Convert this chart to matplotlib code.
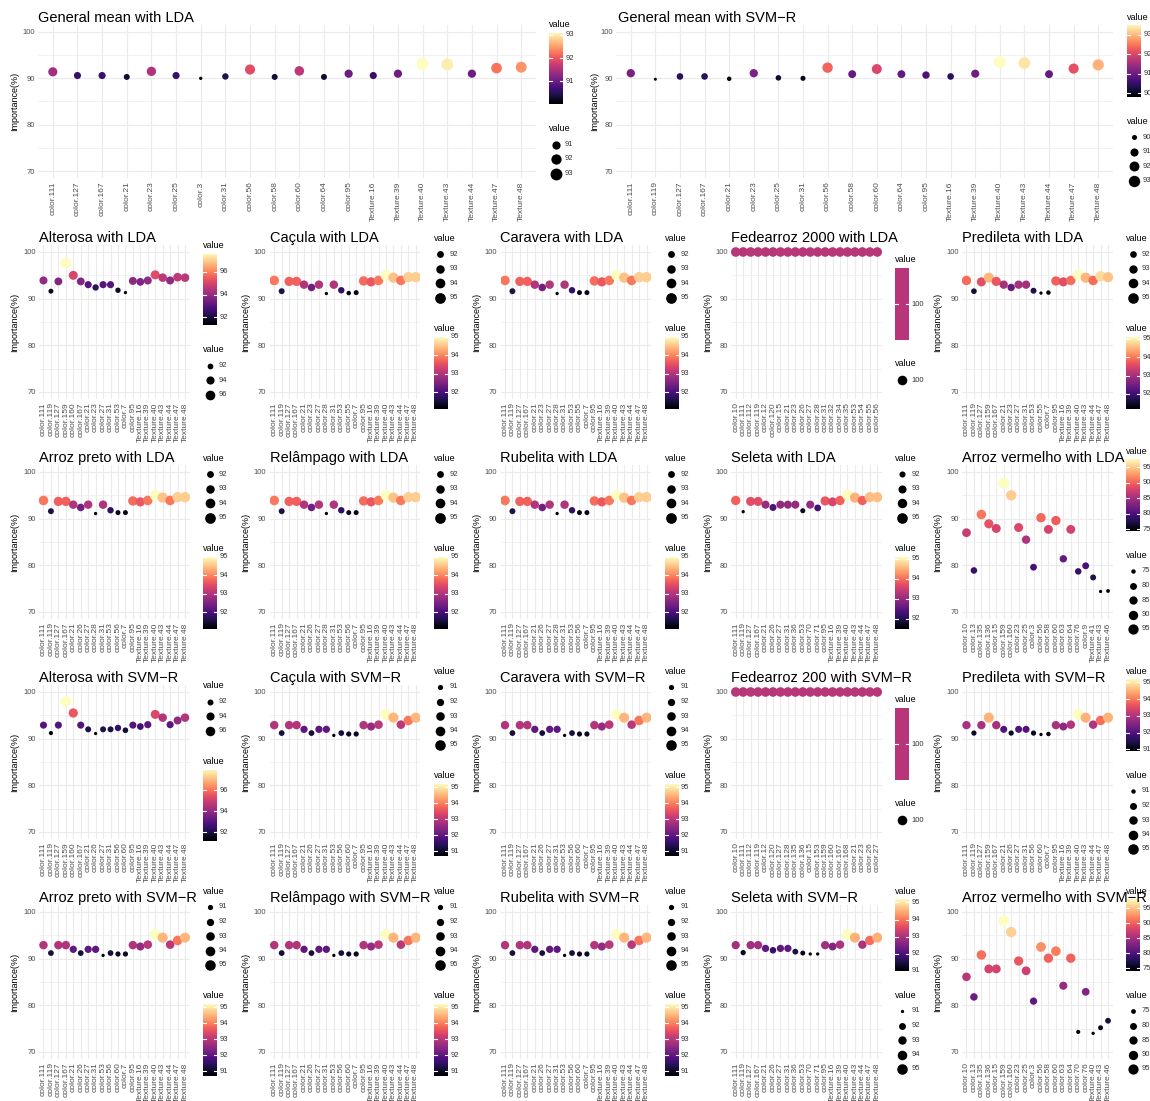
import numpy as np
import matplotlib
matplotlib.use("Agg")
import matplotlib.pyplot as plt
from matplotlib import colormaps

plt.rcParams['font.family'] = ['Liberation Sans', 'DejaVu Sans']

# ---------------- data ----------------
gm_lda_cats = ["color.111", "color.127", "color.167", "color.21", "color.23", "color.25", "color.3", "color.31",
               "color.56", "color.58", "color.60", "color.64", "color.95", "Texture.16", "Texture.39", "Texture.40",
               "Texture.43", "Texture.44", "Texture.47", "Texture.48"]
gm_lda_vals = [91.4, 90.6, 90.6, 90.3, 91.5, 90.6, 90.0, 90.4, 91.9, 90.3, 91.6, 90.3, 91.0, 90.6, 91.0, 93.1,
               93.0, 91.0, 92.2, 92.4]
gm_lda_breaks = [91, 92, 93]

gm_svm_cats = ["color.111", "color.119", "color.127", "color.167", "color.21", "color.23", "color.25", "color.31",
               "color.56", "color.58", "color.60", "color.64", "color.95", "Texture.16", "Texture.39", "Texture.40",
               "Texture.43", "Texture.44", "Texture.47", "Texture.48"]
gm_svm_vals = [91.1, 89.8, 90.4, 90.4, 89.9, 91.1, 90.1, 90.0, 92.3, 90.9, 92.0, 90.9, 90.7, 90.4, 91.0, 93.5,
               93.3, 90.9, 92.1, 92.9]
gm_svm_breaks = [90, 91, 92, 93]

alterosa_lda_cats = ["color.111", "color.119", "color.127", "color.159", "color.160", "color.167", "color.21",
                     "color.23", "color.27", "color.31", "color.53", "color.7", "color.95", "Texture.16",
                     "Texture.39", "Texture.40", "Texture.43", "Texture.44", "Texture.47", "Texture.48"]
alterosa_lda_vals = [93.9, 91.6, 93.7, 97.6, 95.0, 93.7, 93.0, 92.4, 93.0, 93.0, 91.8, 91.3, 93.8, 93.6, 93.9,
                     95.1, 94.5, 93.9, 94.6, 94.5]
alterosa_lda_breaks = [92, 94, 96]

cacula_lda_cats = ["color.111", "color.119", "color.127", "color.167", "color.21", "color.23", "color.27",
                   "color.28", "color.31", "color.53", "color.55", "color.7", "color.95", "Texture.16", "Texture.39",
                   "Texture.40", "Texture.43", "Texture.44", "Texture.47", "Texture.48"]
cacula_lda_vals = [93.9, 91.6, 93.7, 93.7, 93.0, 92.4, 93.0, 91.1, 93.0, 91.8, 91.2, 91.3, 93.8, 93.6, 93.9,
                   95.0, 94.5, 93.9, 94.6, 94.6]
cacula_lda_breaks = [92, 93, 94, 95]

caravera_lda_cats = ["color.111", "color.119", "color.127", "color.167", "color.21", "color.23", "color.27",
                     "color.28", "color.31", "color.53", "color.55", "color.7", "color.95", "Texture.16",
                     "Texture.39", "Texture.40", "Texture.43", "Texture.44", "Texture.47", "Texture.48"]
caravera_lda_vals = [93.9, 91.6, 93.7, 93.7, 93.0, 92.4, 93.0, 91.1, 93.0, 91.8, 91.3, 91.3, 93.8, 93.6, 93.9,
                     95.0, 94.5, 93.9, 94.6, 94.6]
caravera_lda_breaks = [92, 93, 94, 95]

fedearroz_lda_cats = ["color.10", "color.111", "color.112", "color.119", "color.12", "color.120", "color.15",
                      "color.21", "color.23", "color.26", "color.27", "color.28", "color.31", "color.32", "color.34",
                      "color.35", "color.53", "color.54", "color.55", "color.56"]
fedearroz_lda_vals = [100] * 20
fedearroz_lda_breaks = [100]

predileta_lda_cats = ["color.111", "color.119", "color.127", "color.159", "color.167", "color.21", "color.23",
                      "color.27", "color.31", "color.53", "color.55", "color.7", "color.95", "Texture.16",
                      "Texture.39", "Texture.40", "Texture.43", "Texture.44", "Texture.47", "Texture.48"]
predileta_lda_vals = [93.9, 91.6, 93.6, 94.5, 93.7, 93.0, 92.4, 93.0, 93.0, 91.7, 91.2, 91.3, 93.8, 93.6, 93.9,
                      95.1, 94.5, 93.9, 94.8, 94.6]
predileta_lda_breaks = [92, 93, 94, 95]

arroz_preto_lda_cats = ["color.111", "color.119", "color.127", "color.167", "color.21", "color.26", "color.27",
                        "color.28", "color.31", "color.53", "color.56", "color.7", "color.95", "Texture.16",
                        "Texture.39", "Texture.40", "Texture.43", "Texture.44", "Texture.47", "Texture.48"]
arroz_preto_lda_vals = [93.9, 91.6, 93.7, 93.7, 93.0, 92.4, 93.0, 91.1, 93.0, 91.8, 91.3, 91.3, 93.8, 93.6, 93.9,
                        95.0, 94.5, 93.9, 94.6, 94.6]
arroz_preto_lda_breaks = [92, 93, 94, 95]

relampago_lda_cats = ["color.111", "color.119", "color.127", "color.167", "color.21", "color.26", "color.27",
                      "color.28", "color.31", "color.53", "color.56", "color.7", "color.95", "Texture.16",
                      "Texture.39", "Texture.40", "Texture.43", "Texture.44", "Texture.47", "Texture.48"]
relampago_lda_vals = [93.9, 91.6, 93.7, 93.7, 93.0, 92.4, 93.0, 91.1, 93.0, 91.8, 91.3, 91.3, 93.8, 93.6, 93.9,
                      95.0, 94.5, 93.9, 94.6, 94.6]
relampago_lda_breaks = [92, 93, 94, 95]

rubelita_lda_cats = ["color.111", "color.119", "color.127", "color.167", "color.21", "color.26", "color.27",
                     "color.28", "color.31", "color.53", "color.56", "color.7", "color.95", "Texture.16",
                     "Texture.39", "Texture.40", "Texture.43", "Texture.44", "Texture.47", "Texture.48"]
rubelita_lda_vals = [93.9, 91.6, 93.7, 93.7, 93.0, 92.4, 93.0, 91.1, 93.0, 91.8, 91.3, 91.3, 93.8, 93.6, 93.9,
                     95.0, 94.5, 93.9, 94.6, 94.6]
rubelita_lda_breaks = [92, 93, 94, 95]

seleta_lda_cats = ["color.111", "color.119", "color.127", "color.167", "color.21", "color.26", "color.27",
                   "color.31", "color.36", "color.53", "color.70", "color.71", "color.95", "Texture.16",
                   "Texture.39", "Texture.40", "Texture.43", "Texture.44", "Texture.47", "Texture.48"]
seleta_lda_vals = [93.9, 91.5, 93.7, 93.7, 93.0, 92.4, 93.0, 93.0, 93.0, 91.7, 93.0, 92.3, 93.8, 93.6, 93.9,
                   95.1, 94.5, 93.9, 94.6, 94.6]
seleta_lda_breaks = [92, 93, 94, 95]

arroz_vermelho_lda_cats = ["color.10", "color.13", "color.135", "color.136", "color.15", "color.159", "color.160",
                           "color.23", "color.25", "color.3", "color.56", "color.58", "color.60", "color.63",
                           "color.64", "color.76", "color.9", "Texture.41", "Texture.43", "Texture.46"]
arroz_vermelho_lda_vals = [87.0, 78.9, 90.9, 88.9, 87.9, 97.6, 95.0, 88.1, 85.5, 79.6, 90.2, 87.7, 89.6, 81.4,
                           87.7, 78.7, 79.9, 77.4, 74.4, 74.5]
arroz_vermelho_lda_breaks = [75, 80, 85, 90, 95]

alterosa_svm_cats = ["color.111", "color.119", "color.127", "color.159", "color.160", "color.167", "color.21",
                     "color.26", "color.27", "color.31", "color.56", "color.60", "color.95", "Texture.16",
                     "Texture.39", "Texture.40", "Texture.43", "Texture.44", "Texture.47", "Texture.48"]
alterosa_svm_vals = [92.9, 91.2, 92.9, 98.0, 95.5, 92.9, 92.0, 91.1, 92.0, 92.0, 92.3, 91.8, 92.9, 92.6, 93.0,
                     95.2, 94.5, 93.0, 93.9, 94.5]
alterosa_svm_breaks = [92, 94, 96]

cacula_svm_cats = ["color.111", "color.119", "color.127", "color.167", "color.21", "color.26", "color.27",
                   "color.31", "color.53", "color.56", "color.60", "color.7", "color.95", "Texture.16", "Texture.39",
                   "Texture.40", "Texture.43", "Texture.44", "Texture.47", "Texture.48"]
cacula_svm_vals = [92.9, 91.2, 92.9, 92.9, 92.0, 91.2, 92.0, 92.0, 90.7, 91.2, 91.0, 91.0, 92.9, 92.6, 93.0,
                   95.2, 94.5, 93.0, 93.9, 94.5]
cacula_svm_breaks = [91, 92, 93, 94, 95]

caravera_svm_cats = ["color.111", "color.119", "color.127", "color.167", "color.21", "color.26", "color.27",
                     "color.31", "color.53", "color.56", "color.60", "color.7", "color.95", "Texture.16",
                     "Texture.39", "Texture.40", "Texture.43", "Texture.44", "Texture.47", "Texture.48"]
caravera_svm_vals = [92.9, 91.2, 92.9, 92.9, 92.0, 91.2, 92.0, 92.0, 90.7, 91.2, 91.0, 91.0, 92.9, 92.6, 93.0,
                     95.2, 94.5, 93.0, 93.9, 94.5]
caravera_svm_breaks = [91, 92, 93, 94, 95]

fedearroz_svm_cats = ["color.10", "color.111", "color.112", "color.119", "color.12", "color.120", "color.127",
                      "color.128", "color.135", "color.136", "color.15", "color.153", "color.159", "color.160",
                      "color.167", "color.168", "color.21", "color.23", "color.26", "color.27"]
fedearroz_svm_vals = [100] * 20
fedearroz_svm_breaks = [100]

predileta_svm_cats = ["color.111", "color.119", "color.127", "color.159", "color.167", "color.21", "color.26",
                      "color.27", "color.31", "color.56", "color.60", "color.7", "color.95", "Texture.16",
                      "Texture.39", "Texture.40", "Texture.43", "Texture.44", "Texture.47", "Texture.48"]
predileta_svm_vals = [92.9, 91.2, 92.9, 94.5, 92.9, 92.0, 91.2, 92.0, 92.0, 91.2, 90.9, 91.0, 92.9, 92.6, 93.0,
                      95.2, 94.5, 93.0, 93.9, 94.5]
predileta_svm_breaks = [91, 92, 93, 94, 95]

arroz_preto_svm_cats = ["color.111", "color.119", "color.127", "color.167", "color.21", "color.26", "color.27",
                        "color.31", "color.53", "color.56", "color.60", "color.7", "color.95", "Texture.16",
                        "Texture.39", "Texture.40", "Texture.43", "Texture.44", "Texture.47", "Texture.48"]
arroz_preto_svm_vals = [92.9, 91.2, 92.9, 92.9, 92.0, 91.2, 92.0, 92.0, 90.7, 91.2, 91.0, 91.0, 92.9, 92.6, 93.0,
                        95.2, 94.5, 93.0, 93.9, 94.5]
arroz_preto_svm_breaks = [91, 92, 93, 94, 95]

relampago_svm_cats = ["color.111", "color.119", "color.127", "color.167", "color.21", "color.26", "color.27",
                      "color.31", "color.53", "color.56", "color.60", "color.7", "color.95", "Texture.16",
                      "Texture.39", "Texture.40", "Texture.43", "Texture.44", "Texture.47", "Texture.48"]
relampago_svm_vals = [92.9, 91.2, 92.9, 92.9, 92.0, 91.2, 92.0, 92.0, 90.7, 91.2, 91.0, 91.0, 92.9, 92.6, 93.0,
                      95.2, 94.5, 93.0, 93.9, 94.5]
relampago_svm_breaks = [91, 92, 93, 94, 95]

rubelita_svm_cats = ["color.111", "color.119", "color.127", "color.167", "color.21", "color.26", "color.27",
                     "color.31", "color.53", "color.56", "color.60", "color.7", "color.95", "Texture.16",
                     "Texture.39", "Texture.40", "Texture.43", "Texture.44", "Texture.47", "Texture.48"]
rubelita_svm_vals = [92.9, 91.2, 92.9, 92.9, 92.0, 91.2, 92.0, 92.0, 90.7, 91.2, 91.0, 91.0, 92.9, 92.6, 93.0,
                     95.2, 94.5, 93.0, 93.9, 94.5]
rubelita_svm_breaks = [91, 92, 93, 94, 95]

seleta_svm_cats = ["color.111", "color.119", "color.127", "color.167", "color.21", "color.26", "color.27",
                   "color.31", "color.36", "color.53", "color.70", "color.71", "color.95", "Texture.16",
                   "Texture.39", "Texture.40", "Texture.43", "Texture.44", "Texture.47", "Texture.48"]
seleta_svm_vals = [92.9, 91.3, 92.9, 92.9, 92.2, 91.8, 92.2, 92.2, 91.5, 91.2, 91.0, 91.0, 92.9, 92.6, 93.0,
                   95.2, 94.5, 93.0, 93.9, 94.5]
seleta_svm_breaks = [91, 92, 93, 94, 95]

arroz_vermelho_svm_cats = ["color.10", "color.13", "color.135", "color.136", "color.15", "color.159", "color.160",
                           "color.23", "color.25", "color.3", "color.56", "color.58", "color.60", "color.63",
                           "color.64", "color.70", "color.76", "Texture.40", "Texture.43", "Texture.46"]
arroz_vermelho_svm_vals = [86.1, 81.8, 90.8, 87.8, 87.8, 98.1, 95.7, 89.5, 87.4, 80.9, 92.5, 90.1, 91.6, 84.2,
                           90.1, 74.3, 82.9, 74.0, 75.2, 76.7]
arroz_vermelho_svm_breaks = [75, 80, 85, 90, 95]

y_ticks = [70, 80, 90, 100]

# ---------------- drawing ----------------
W, H = 1150, 1101
fig = plt.figure(figsize=(W / 100, H / 100), dpi=100)
fig.patch.set_facecolor('white')
ov = fig.add_axes([0, 0, 1, 1], zorder=10)
ov.set_xlim(0, W)
ov.set_ylim(H, 0)
ov.axis('off')

cmap = colormaps['magma']
TXT = '#4D4D4D'
GRID = '#EBEBEB'


def norm_t(v, vmin, vmax):
    v = np.asarray(v, float)
    if vmax - vmin < 1e-9:
        return np.full_like(v, 0.5)
    return np.clip((v - vmin) / (vmax - vmin), 0, 1)


def diam(v, vmin, vmax, dmin, dmax):
    v = np.asarray(v, float)
    if vmax - vmin < 1e-9:
        return np.full_like(v, 9.6)
    t = norm_t(v, vmin, vmax)
    return dmin + np.sqrt(t) * (dmax - dmin)


def s_of(d):
    return (np.asarray(d) * 0.72) ** 2


def draw_cbar(x, y, vmin, vmax, breaks, bar_h=72, bar_w=14):
    ov.text(x, y + 5, "value", fontsize=6.5, color='black', ha='left', va='center')
    top = y + 13
    bot = top + bar_h
    cax = fig.add_axes([x / W, 1 - bot / H, bar_w / W, bar_h / H], zorder=5)
    if vmax - vmin < 1e-9:
        grad = np.full((2, 1), 0.5)
    else:
        grad = np.linspace(1, 0, 256)[:, None]
    cax.imshow(grad, cmap=cmap, vmin=0, vmax=1, aspect='auto', extent=(0, 1, 0, 1), interpolation='bilinear')
    cax.axis('off')
    for b in breaks:
        t = float(norm_t(b, vmin, vmax))
        yy = bot - t * bar_h
        ov.plot([x, x + 3], [yy, yy], color='white', lw=0.8)
        ov.plot([x + bar_w - 3, x + bar_w], [yy, yy], color='white', lw=0.8)
        ov.text(x + bar_w + 2.5, yy, f"{b:g}", fontsize=5.5, color='#333333', ha='left', va='center',
                clip_on=False)
    return 13 + bar_h


def draw_size(x, y, vmin, vmax, breaks, dmin, dmax):
    ov.text(x, y + 5, "value", fontsize=6.5, color='black', ha='left', va='center')
    for i, b in enumerate(breaks):
        yy = y + 21 + i * 14.5
        ov.scatter([x + 6.5], [yy], s=s_of(diam(b, vmin, vmax, dmin, dmax)), color='black', linewidths=0)
        ov.text(x + 16, yy, f"{b:g}", fontsize=5.5, color='#333333', ha='left', va='center')
    return 21 + (len(breaks) - 1) * 14.5 + 7


def panel(x0, y0, cats, vals, title, breaks, order, geom):
    pl, pr, pt, pb, lx, lc, dmin, dmax, tx, ty = geom
    ax = fig.add_axes([(x0 + pl) / W, 1 - (y0 + pb) / H, (pr - pl) / W, (pb - pt) / H])
    n = len(cats)
    xs = np.arange(n)
    v = np.asarray(vals, float)
    vmin, vmax = v.min(), v.max()
    cols = cmap(norm_t(v, vmin, vmax))
    ax.scatter(xs, v, s=s_of(diam(v, vmin, vmax, dmin, dmax)), c=cols, linewidths=0, zorder=3)
    ax.set_xlim(-0.6, n - 0.4)
    ax.set_ylim(68.5, 101.5)
    ax.set_xticks(xs)
    ax.set_xticklabels(cats, rotation=90, fontsize=6, color=TXT)
    ax.set_yticks(y_ticks)
    ax.set_yticklabels([str(t) for t in y_ticks], fontsize=5.5, color=TXT)
    ax.set_yticks([75, 85, 95], minor=True)
    ax.tick_params(which='both', length=0, pad=2.5)
    ax.grid(which='major', color=GRID, lw=0.8)
    ax.grid(which='minor', axis='y', color=GRID, lw=0.45)
    ax.set_axisbelow(True)
    for sp in ax.spines.values():
        sp.set_visible(False)
    ov.text(x0 + 15, y0 + (pt + pb) / 2, "Importance(%)", rotation=90, fontsize=6.5, color='black',
            ha='center', va='center')
    ov.text(x0 + tx, y0 + ty, title, fontsize=10.5, color='black', ha='left', va='center')
    # legends, stacked and centred vertically
    h_c = 85
    h_s = 21 + (len(breaks) - 1) * 14.5 + 7
    gap = 19
    total = h_c + h_s + gap
    y = y0 + lc - total / 2
    for b in order:
        if b == 'c':
            draw_cbar(x0 + lx, y, vmin, vmax, breaks)
            y += h_c + gap
        else:
            draw_size(x0 + lx, y, vmin, vmax, breaks, dmin, dmax)
            y += h_s + gap


# top row
panel(0, 0, gm_lda_cats, gm_lda_vals, "General mean with LDA", gm_lda_breaks, 'cs',
      (38, 536, 25, 178, 549, 100, 3.3, 12.0, 38, 18))
panel(580, 0, gm_svm_cats, gm_svm_vals, "General mean with SVM\u2212R", gm_svm_breaks, 'cs',
      (36, 533, 25, 178, 547, 100, 3.0, 12.0, 38, 18))

lower = [
    [(alterosa_lda_cats, alterosa_lda_vals, "Alterosa with LDA", alterosa_lda_breaks, 'cs'),
     (cacula_lda_cats, cacula_lda_vals, "Caçula with LDA", cacula_lda_breaks, 'sc'),
     (caravera_lda_cats, caravera_lda_vals, "Caravera with LDA", caravera_lda_breaks, 'sc'),
     (fedearroz_lda_cats, fedearroz_lda_vals, "Fedearroz 2000 with LDA", fedearroz_lda_breaks, 'cs'),
     (predileta_lda_cats, predileta_lda_vals, "Predileta with LDA", predileta_lda_breaks, 'sc')],
    [(arroz_preto_lda_cats, arroz_preto_lda_vals, "Arroz preto with LDA", arroz_preto_lda_breaks, 'sc'),
     (relampago_lda_cats, relampago_lda_vals, "Relâmpago with LDA", relampago_lda_breaks, 'sc'),
     (rubelita_lda_cats, rubelita_lda_vals, "Rubelita with LDA", rubelita_lda_breaks, 'sc'),
     (seleta_lda_cats, seleta_lda_vals, "Seleta with LDA", seleta_lda_breaks, 'sc'),
     (arroz_vermelho_lda_cats, arroz_vermelho_lda_vals, "Arroz vermelho with LDA", arroz_vermelho_lda_breaks, 'cs')],
    [(alterosa_svm_cats, alterosa_svm_vals, "Alterosa with SVM\u2212R", alterosa_svm_breaks, 'sc'),
     (cacula_svm_cats, cacula_svm_vals, "Caçula with SVM\u2212R", cacula_svm_breaks, 'sc'),
     (caravera_svm_cats, caravera_svm_vals, "Caravera with SVM\u2212R", caravera_svm_breaks, 'sc'),
     (fedearroz_svm_cats, fedearroz_svm_vals, "Fedearroz 200 with SVM\u2212R", fedearroz_svm_breaks, 'cs'),
     (predileta_svm_cats, predileta_svm_vals, "Predileta with SVM\u2212R", predileta_svm_breaks, 'cs')],
    [(arroz_preto_svm_cats, arroz_preto_svm_vals, "Arroz preto with SVM\u2212R", arroz_preto_svm_breaks, 'sc'),
     (relampago_svm_cats, relampago_svm_vals, "Relâmpago with SVM\u2212R", relampago_svm_breaks, 'sc'),
     (rubelita_svm_cats, rubelita_svm_vals, "Rubelita with SVM\u2212R", rubelita_svm_breaks, 'sc'),
     (seleta_svm_cats, seleta_svm_vals, "Seleta with SVM\u2212R", seleta_svm_breaks, 'cs'),
     (arroz_vermelho_svm_cats, arroz_vermelho_svm_vals, "Arroz vermelho with SVM\u2212R", arroz_vermelho_svm_breaks, 'cs')],
]
row_tops = [225, 445, 665, 885]
col_lefts = [0, 230.75, 461.5, 692.25, 923]
lower_geom = (39, 189.5, 20, 174, 203, 96, 3.3, 10.7, 39, 13)
for r, row in enumerate(lower):
    for c, (cats, vals, title, breaks, order) in enumerate(row):
        panel(col_lefts[c], row_tops[r], cats, vals, title, breaks, order, lower_geom)

fig.savefig("out.png", dpi=100, facecolor='white')
